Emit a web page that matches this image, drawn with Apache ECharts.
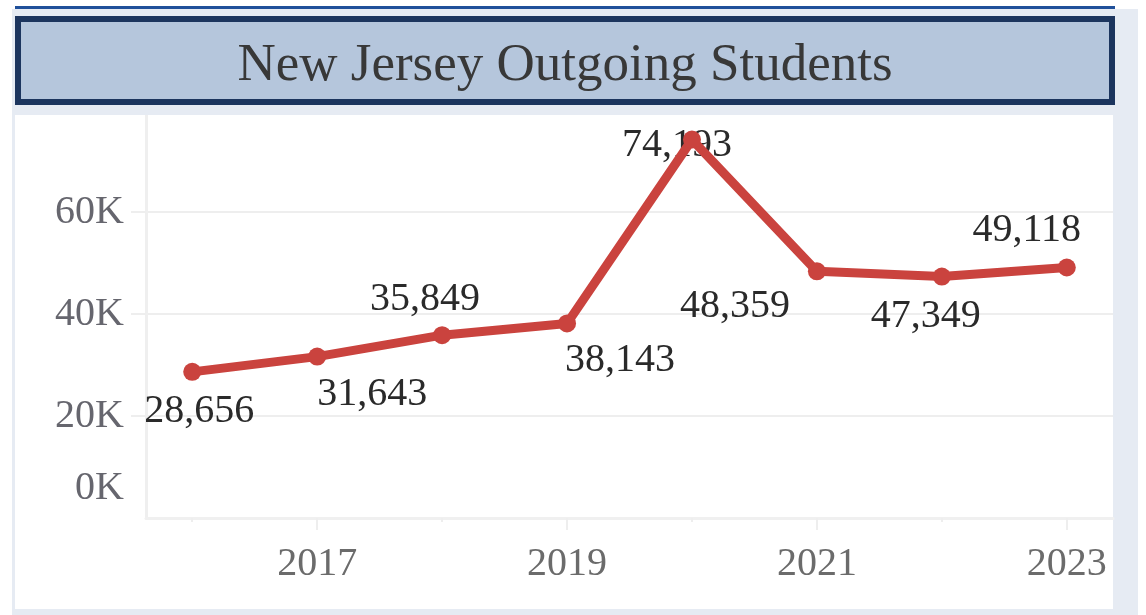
<!DOCTYPE html>
<html>
<head>
<meta charset="utf-8">
<title>New Jersey Outgoing Students</title>
<script src="https://cdn.jsdelivr.net/npm/echarts@6/dist/echarts.min.js"></script>
<style>
  html, body { margin: 0; padding: 0; background: #ffffff; }
  #chart { width: 1146px; height: 615px; }
</style>
</head>
<body>
<div id="chart"></div>
<script>
// Outgoing students from New Jersey, by year
const years = [2016, 2017, 2018, 2019, 2020, 2021, 2022, 2023];
const students = [28656, 31643, 35849, 38143, 74193, 48359, 47349, 49118];
const xLabelYears = [2017, 2019, 2021, 2023];
const xMinorYears = [2016, 2018, 2020, 2022];
const yTicks = [0, 20000, 40000, 60000];

// Where each value label sits relative to its point (px)
const labelOffsets = [[7, 40], [55, 38], [-17, -36], [53, 37], [-15, 6], [-82, 35], [-16, 40], [-40, -37]];

const SERIF = '"Liberation Serif", "DejaVu Serif", serif';
const RED = '#ca433e';
const GRID_GRAY = '#eeeeee';

const points = years.map((y, i) => [y, students[i]]);
const labelPoints = years.map((y, i) => ({
  value: [y, students[i]],
  label: { offset: labelOffsets[i] }
}));

const chart = echarts.init(document.getElementById('chart'), null, { renderer: 'canvas' });

chart.setOption({
  backgroundColor: '#ffffff',
  animation: false,
  graphic: [
    // outer light band
    { type: 'rect', z: -10, silent: true, shape: { x: 12, y: 9, width: 1126, height: 606 }, style: { fill: '#e6ebf3' } },
    // thin blue rule on top
    { type: 'rect', z: -9, silent: true, shape: { x: 15, y: 6, width: 1100, height: 3 }, style: { fill: '#20509a' } },
    // white plot panel
    { type: 'rect', z: -9, silent: true, shape: { x: 15, y: 115, width: 1098, height: 494 }, style: { fill: '#ffffff' } },
    // band between title and panel (kept above the grid)
    { type: 'rect', z: 50, silent: true, shape: { x: 15, y: 105, width: 1100, height: 10 }, style: { fill: '#e6ebf3' } },
    // title box
    { type: 'rect', z: 51, silent: true, shape: { x: 18, y: 19, width: 1094, height: 83 },
      style: { fill: '#b5c6dc', stroke: '#1c355e', lineWidth: 6 } },
    { type: 'text', z: 52, silent: true, x: 565, y: 66,
      style: { text: 'New Jersey Outgoing Students', fill: '#383838', font: '53px ' + SERIF, align: 'center', verticalAlign: 'middle' } }
  ],
  grid: { left: 146, right: 33, top: 110, bottom: 97, containLabel: false },
  xAxis: [
    {
      type: 'value',
      min: 2015.63,
      max: 2023.37,
      splitLine: { show: false },
      axisLine: { show: true, lineStyle: { color: '#f0f0f0', width: 3 } },
      axisTick: { show: true, customValues: xLabelYears, length: 12, lineStyle: { color: GRID_GRAY, width: 2 } },
      axisLabel: {
        customValues: xLabelYears,
        formatter: v => String(v),
        color: '#6b6b6b',
        fontFamily: SERIF,
        fontSize: 40,
        margin: 26
      }
    },
    {
      type: 'value',
      min: 2015.63,
      max: 2023.37,
      position: 'bottom',
      splitLine: { show: false },
      axisLine: { show: false },
      axisTick: { show: true, customValues: xMinorYears, length: 4, lineStyle: { color: GRID_GRAY, width: 2 } },
      axisLabel: { show: false }
    }
  ],
  yAxis: {
    type: 'value',
    min: 0,
    max: 80000,
    interval: 20000,
    splitLine: { show: true, lineStyle: { color: GRID_GRAY, width: 2 } },
    axisLine: { show: true, lineStyle: { color: '#efefef', width: 3 } },
    axisTick: { show: true, customValues: yTicks.slice(1), length: 15, lineStyle: { color: GRID_GRAY, width: 2 } },
    axisLabel: {
      customValues: yTicks,
      formatter: v => (v / 1000) + 'K',
      color: '#66666e',
      fontFamily: SERIF,
      fontSize: 40,
      lineHeight: 60,
      margin: 22,
      verticalAlignMinLabel: 'bottom'
    }
  },
  series: [
    {
      // value labels, drawn beneath the line
      type: 'line',
      z: 1,
      data: labelPoints,
      symbol: 'circle',
      symbolSize: 1,
      itemStyle: { color: 'rgba(0,0,0,0)' },
      lineStyle: { width: 0, color: 'rgba(0,0,0,0)' },
      label: {
        show: true,
        position: 'inside',
        opacity: 1,
        formatter: p => p.value[1].toLocaleString('en-US'),
        color: '#2a2a2a',
        fontFamily: SERIF,
        fontSize: 40
      },
      silent: true
    },
    {
      type: 'line',
      z: 3,
      data: points,
      symbol: 'circle',
      symbolSize: 18,
      showAllSymbol: true,
      itemStyle: { color: RED },
      lineStyle: { color: RED, width: 9 },
      label: { show: false },
      silent: true
    }
  ]
});
</script>
</body>
</html>
